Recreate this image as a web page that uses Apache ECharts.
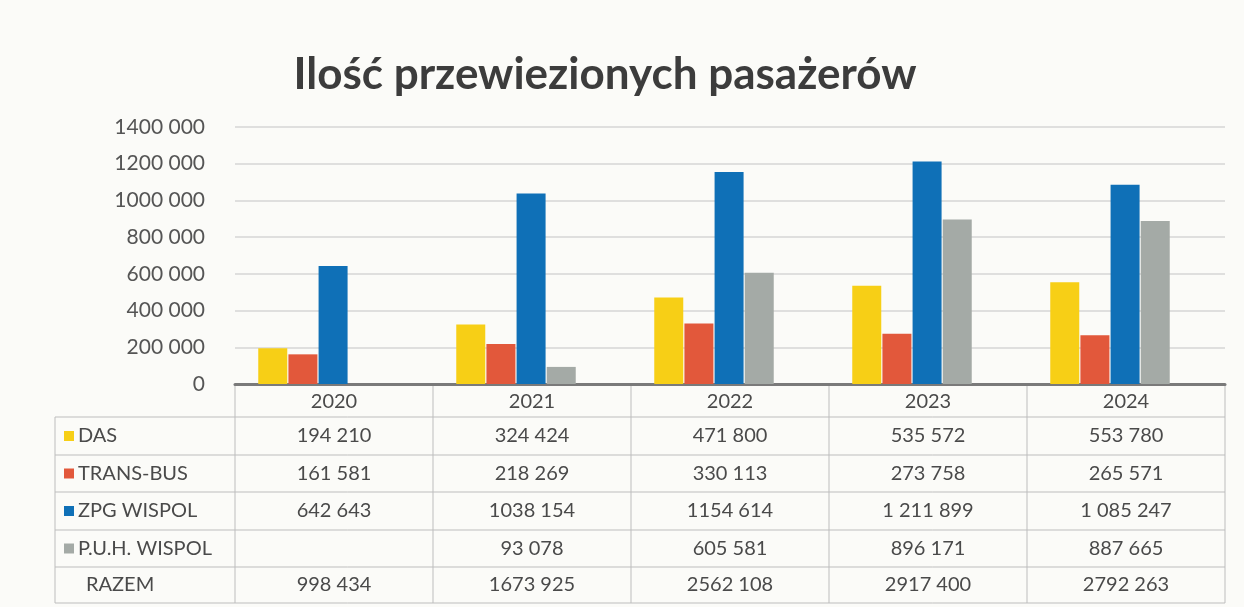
<!DOCTYPE html>
<html>
<head>
<meta charset="utf-8">
<script src="https://cdn.jsdelivr.net/npm/echarts@6/dist/echarts.min.js"></script>
<style>
  html, body { margin: 0; padding: 0; background: #fbfbf8; }
  #chart { width: 1244px; height: 607px; }
</style>
</head>
<body>
<div id="chart"></div>
<script>
const categories = ['2020', '2021', '2022', '2023', '2024'];
const seriesNames = ['DAS', 'TRANS-BUS', 'ZPG WISPOL', 'P.U.H. WISPOL'];
const das = [194210, 324424, 471800, 535572, 553780];
const transBus = [161581, 218269, 330113, 273758, 265571];
const zpgWispol = [642643, 1038154, 1154614, 1211899, 1085247];
const puhWispol = [null, 93078, 605581, 896171, 887665];
const yMax = 1400000;
const yStep = 200000;
const colors = ['#f7cf16', '#e2583b', '#0f70b7', '#a4aaa6'];
// in the source table the ZPG WISPOL numbers of 2023/2024 are written with full grouping
const zpgFullGrouping = [false, false, false, true, true];

const values = [das, transBus, zpgWispol, puhWispol];
const razem = categories.map((c, i) => values.reduce((s, arr) => s + (arr[i] || 0), 0));

function fmt(v, full) {
  if (v == null) return '';
  const s = String(v);
  if (s.length <= 3) return s;
  if (full) return s.replace(/\B(?=(\d{3})+(?!\d))/g, ' ');
  return s.slice(0, -3) + ' ' + s.slice(-3);
}

const font = 'Lato, "Open Sans", sans-serif';
const textColor = '#4a4a4a';
const lineColor = '#bdbdbd';
const cellFont = '20px ' + font;

const W = 1244;
const plotLeft = 235, plotRight = 19, plotTop = 127, plotBottom = 384;
const colW = (W - plotLeft - plotRight) / categories.length;
const tableLeft = 55;
const rowEdges = [384, 417, 455, 492, 530, 567, 603];

const chart = echarts.init(document.getElementById('chart'));

const graphic = [];
// table lines
for (let r = 1; r < rowEdges.length; r++) {
  graphic.push({ type: 'line', silent: true,
    shape: { x1: tableLeft, y1: rowEdges[r], x2: W - plotRight, y2: rowEdges[r] },
    style: { stroke: lineColor, lineWidth: 1 } });
}
graphic.push({ type: 'line', silent: true,
  shape: { x1: tableLeft, y1: rowEdges[1], x2: tableLeft, y2: rowEdges[6] },
  style: { stroke: lineColor, lineWidth: 1 } });
for (let c = 0; c <= categories.length; c++) {
  const x = plotLeft + c * colW;
  graphic.push({ type: 'line', silent: true,
    shape: { x1: x, y1: rowEdges[0], x2: x, y2: rowEdges[6] },
    style: { stroke: lineColor, lineWidth: 1 } });
}
// header years
categories.forEach((cat, i) => {
  graphic.push({ type: 'text', silent: true,
    x: plotLeft + (i + 0.5) * colW, y: (rowEdges[0] + rowEdges[1]) / 2 + 1,
    style: { text: cat, font: cellFont, fill: textColor, align: 'center', verticalAlign: 'middle' } });
});
// series rows
values.forEach((arr, r) => {
  const yc = (rowEdges[r + 1] + rowEdges[r + 2]) / 2;
  graphic.push({ type: 'rect', silent: true,
    shape: { x: 64, y: yc - 5, width: 10, height: 10 },
    style: { fill: colors[r] } });
  graphic.push({ type: 'text', silent: true, x: 78, y: yc,
    style: { text: seriesNames[r], font: cellFont, fill: textColor, verticalAlign: 'middle' } });
  arr.forEach((v, i) => {
    graphic.push({ type: 'text', silent: true,
      x: plotLeft + (i + 0.5) * colW, y: yc,
      style: { text: fmt(v, r === 2 && zpgFullGrouping[i]), font: cellFont, fill: textColor,
        align: 'center', verticalAlign: 'middle' } });
  });
});
// total row
{
  const yc = (rowEdges[5] + rowEdges[6]) / 2;
  graphic.push({ type: 'text', silent: true, x: 86, y: yc,
    style: { text: 'RAZEM', font: cellFont, fill: textColor, verticalAlign: 'middle' } });
  razem.forEach((v, i) => {
    graphic.push({ type: 'text', silent: true,
      x: plotLeft + (i + 0.5) * colW, y: yc,
      style: { text: fmt(v, false), font: cellFont, fill: textColor, align: 'center', verticalAlign: 'middle' } });
  });
}

chart.setOption({
  backgroundColor: '#fbfbf8',
  animation: false,
  title: {
    text: 'Ilość przewiezionych pasażerów',
    left: 600, top: 48, textAlign: 'center',
    textStyle: { fontFamily: font, fontSize: 44, fontWeight: 'bold', color: '#3c3c3c' }
  },
  grid: [
    // axis grid, lined up with the table
    { left: plotLeft, right: plotRight, top: plotTop, bottom: 607 - plotBottom },
    // bars sit a bit to the left in the original
    { left: plotLeft - 16, right: plotRight + 16, top: plotTop, bottom: 607 - plotBottom }
  ],
  xAxis: [
    { gridIndex: 0, type: 'category', data: categories,
      axisLine: { lineStyle: { color: '#7a7a7a', width: 3 } },
      axisTick: { show: false }, axisLabel: { show: false } },
    { gridIndex: 1, type: 'category', data: categories, show: false }
  ],
  yAxis: [
    { gridIndex: 0, type: 'value', min: 0, max: yMax, interval: yStep,
      axisLine: { show: false }, axisTick: { show: false },
      axisLabel: { margin: 30, fontFamily: font, fontSize: 21, color: '#555',
        formatter: v => fmt(v, false) },
      splitLine: { lineStyle: { color: '#d6d6d6', width: 1.5 } } },
    { gridIndex: 1, type: 'value', min: 0, max: yMax, interval: yStep, show: false,
      splitLine: { show: false } }
  ],
  series: values.map((arr, r) => ({
    name: seriesNames[r],
    type: 'bar',
    xAxisIndex: 1, yAxisIndex: 1,
    data: arr,
    barWidth: 29,
    barGap: '4%',
    itemStyle: { color: colors[r] }
  })),
  graphic: graphic
});
</script>
</body>
</html>
